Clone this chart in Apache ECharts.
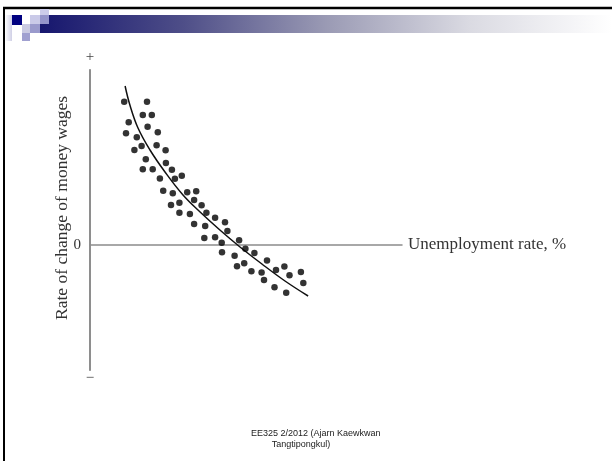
<!DOCTYPE html>
<html>
<head>
<meta charset="utf-8">
<script src="https://cdn.jsdelivr.net/npm/echarts@6/dist/echarts.min.js"></script>
<style>
html,body{margin:0;padding:0;background:#fff;}
#chart{width:612px;height:461px;}
</style>
</head>
<body>
<div id="chart"></div>
<script>
// Scatter observations (unemployment, wage change) in arbitrary units
const dotX = [11.4,19.0,17.6,20.6,12.9,19.2,12.0,22.6,15.6,14.8,17.2,22.2,25.2,18.6,25.3,17.6,20.9,27.3,23.3,28.3,30.6,24.4,27.6,32.4,35.4,34.7,29.8,27.0,37.2,29.8,33.3,38.8,41.7,34.7,38.4,45.0,45.8,38.1,41.7,43.9,49.7,44.0,48.2,51.8,54.8,59.0,49.0,51.4,53.8,57.2,62.0,64.8,66.5,70.3,58.0,61.5,65.4,71.1];
const dotY = [57.3,57.3,52.0,52.0,49.1,47.3,44.7,45.1,43.1,38.0,39.6,39.9,37.9,34.3,32.8,30.3,30.3,30.1,26.6,26.5,27.7,21.7,20.7,21.1,21.5,18.0,16.9,16.0,15.9,12.9,12.4,12.9,10.9,8.4,7.6,9.1,5.6,2.8,3.1,0.9,1.9,-2.9,-4.3,-1.5,-3.2,-6.2,-8.5,-7.3,-10.5,-11.0,-10.0,-8.6,-12.1,-10.8,-14.0,-16.9,-19.1,-15.2];
// Fitted Phillips curve
const curveX = [11.7,13.3,16.0,20.0,25.0,31.0,36.7,43.3,50.0,57.3,65.0,72.7];
const curveY = [63.6,56.0,46.8,38.0,29.2,20.0,13.2,6.0,-0.8,-7.6,-14.4,-20.4];
// Axis texts
const xAxisTitle = 'Unemployment rate, %';
const yAxisTitle = 'Rate of change of money wages';
const yTopLabel = '+';
const yBottomLabel = '\u2212';
const yZeroLabel = '0';
const footerLines = ['EE325 2/2012 (Ajarn Kaewkwan ', 'Tangtipongkul)'];

const serif = '"Liberation Serif", "DejaVu Serif", serif';
const sans = '"Liberation Sans", Arial, sans-serif';

const chart = echarts.init(document.getElementById('chart'), null, {renderer:'canvas'});

const yBase = {
  type:'value', min:-50, max:70, interval:10, position:'left',
  axisLine:{show:true, onZero:false, lineStyle:{color:'#8c8c8c', width:1.5}},
  axisTick:{show:false}, splitLine:{show:false}, axisLabel:{show:false}
};

const option = {
  animation:false,
  backgroundColor:'#ffffff',
  grid:{left:90, top:70, width:312, height:300, containLabel:false},
  xAxis:{
    type:'value', min:0, max:104,
    axisLine:{show:true, onZero:true, lineStyle:{color:'#8c8c8c', width:1.5}},
    axisTick:{show:false}, splitLine:{show:false}, axisLabel:{show:false},
    name:xAxisTitle, nameLocation:'end', nameGap:6,
    nameTextStyle:{fontFamily:serif, fontSize:17, color:'#333', verticalAlign:'middle', align:'left'}
  },
  yAxis:[
    Object.assign({}, yBase, {
      axisLabel:{show:true, margin:9, fontFamily:serif, fontSize:15, color:'#333',
        formatter:function(v){return v===0 ? yZeroLabel : '';}},
      name:yAxisTitle, nameLocation:'middle', nameRotate:90, nameGap:19, nameMoveOverlap:false,
      nameTextStyle:{fontFamily:serif, fontSize:17.5, color:'#333', padding:[0,0,0,24]}
    }),
    Object.assign({}, yBase, {
      name:yTopLabel, nameLocation:'end', nameGap:5,
      nameTextStyle:{fontFamily:serif, fontSize:15, color:'#444', align:'center'}
    }),
    Object.assign({}, yBase, {
      name:yBottomLabel, nameLocation:'start', nameGap:1,
      nameTextStyle:{fontFamily:serif, fontSize:15, color:'#444', align:'center', verticalAlign:'top'}
    })
  ],
  series:[
    {
      type:'line', smooth:0.4, symbol:'none', yAxisIndex:0,
      lineStyle:{color:'#111', width:1.5},
      data:curveX.map((x,i)=>[x, curveY[i]]), z:3
    },
    {
      type:'scatter', symbol:'circle', symbolSize:6.5, yAxisIndex:0,
      itemStyle:{color:'#000000'},
      data:dotX.map((x,i)=>[x, dotY[i]]), z:4
    }
  ],
  graphic:[
    // slide frame
    {type:'line', shape:{x1:3, y1:8, x2:612, y2:8}, style:{stroke:'#000', lineWidth:2.5}},
    {type:'line', shape:{x1:4, y1:7, x2:4, y2:461}, style:{stroke:'#000', lineWidth:2}},
    // header bar
    {type:'rect', shape:{x:40, y:15, width:572, height:18},
      style:{fill:new echarts.graphic.LinearGradient(0,0,1,0,[
        {offset:0, color:'#16166e'},{offset:0.25, color:'#4e4e88'},{offset:0.5, color:'#9a9ab4'},
        {offset:0.75, color:'#dadae2'},{offset:1, color:'#ffffff'}])}},
    {type:'rect', shape:{x:5, y:15, width:7, height:26},
      style:{fill:new echarts.graphic.LinearGradient(0,0,1,0,[{offset:0,color:'#ffffff'},{offset:1,color:'#d0d0e6'}])}},
    {type:'rect', shape:{x:12, y:15, width:10, height:10}, style:{fill:'#000080'}},
    {type:'rect', shape:{x:40, y:9, width:9, height:6}, style:{fill:'#ccccea'}},
    {type:'rect', shape:{x:30, y:15, width:10, height:9}, style:{fill:'#cacae8'}},
    {type:'rect', shape:{x:40, y:15, width:9, height:9}, style:{fill:'#9494ca'}},
    {type:'rect', shape:{x:22, y:24, width:8, height:9}, style:{fill:'#cacae2'}},
    {type:'rect', shape:{x:30, y:24, width:10, height:9}, style:{fill:'#9a9acc'}},
    {type:'rect', shape:{x:22, y:33, width:8, height:8}, style:{fill:'#a0a0d0'}},
    // footer
    {type:'text', x:317, y:434, style:{text:footerLines[0], fontFamily:sans, fontSize:9, fill:'#222', align:'center', verticalAlign:'middle'}},
    {type:'text', x:301, y:445, style:{text:footerLines[1], fontFamily:sans, fontSize:9, fill:'#222', align:'center', verticalAlign:'middle'}}
  ]
};
chart.setOption(option);
</script>
</body>
</html>
